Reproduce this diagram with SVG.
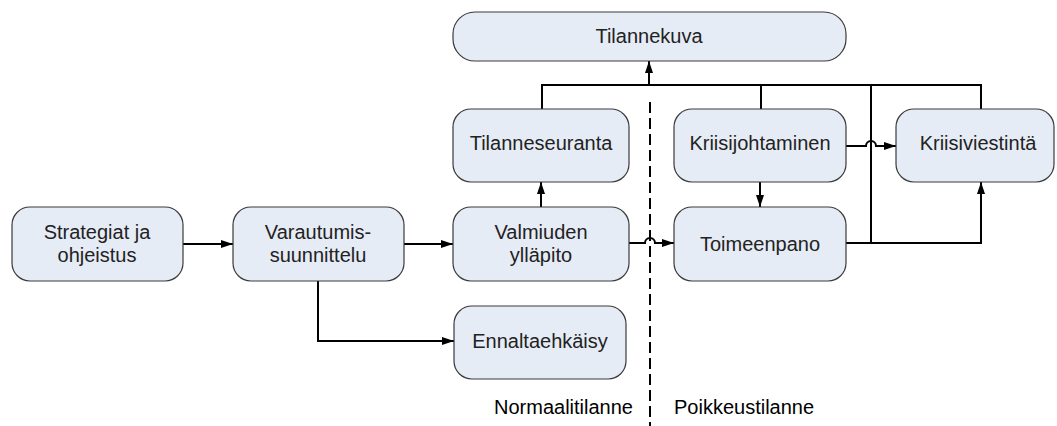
<svg xmlns="http://www.w3.org/2000/svg" width="1057" height="426" viewBox="0 0 1057 426">
<style>
.box{fill:#E6ECF6;stroke:#3a3a3a;stroke-width:1.2}
.t{font-family:"Liberation Sans",Arial,sans-serif;font-size:20px;fill:#222;text-anchor:middle}
.lbl{font-family:"Liberation Sans",Arial,sans-serif;font-size:20px;fill:#000}
.c{fill:none;stroke:#000;stroke-width:2}
</style>
<defs>
<marker id="ah" viewBox="0 0 12 8" refX="12" refY="4" markerWidth="12" markerHeight="8" markerUnits="userSpaceOnUse" orient="auto">
<path d="M0,0 L12,4 L0,8 Z" fill="#000"/>
</marker>
</defs>
<rect width="1057" height="426" fill="#fff"/>
<g id="connectors">
<path class="c" d="M183,244 H233" marker-end="url(#ah)"/>
<path class="c" d="M404,244 H453" marker-end="url(#ah)"/>
<path class="c" d="M318,281 V341 H454" marker-end="url(#ah)"/>
<path class="c" d="M541,207 V182" marker-end="url(#ah)"/>
<path class="c" d="M629,243 H645 A5,5 0 0 1 655,243 H674" marker-end="url(#ah)"/>
<path class="c" d="M760,182 V207" marker-end="url(#ah)"/>
<path class="c" d="M846,146 H866 A5,5 0 0 1 876,146 H896" marker-end="url(#ah)"/>
<path class="c" d="M846,243 H981 V182" marker-end="url(#ah)"/>
<path class="c" d="M871,243 V85"/>
<path class="c" d="M542,109 V85 H981 V109"/>
<path class="c" d="M761,85 V109"/>
<path class="c" d="M649,85 V61" marker-end="url(#ah)"/>
</g>
<g id="divider">
<line x1="650" y1="102" x2="650" y2="426" stroke="#000" stroke-width="2" stroke-dasharray="11,5"/>
</g>
<g id="n-tilannekuva">
<rect class="box" x="453" y="12" width="393" height="49" rx="22"/>
<text class="t" x="649" y="43">Tilannekuva</text>
</g>
<g id="n-tilanneseuranta">
<rect class="box" x="453" y="109" width="176" height="73" rx="18"/>
<text class="t" x="541" y="150">Tilanneseuranta</text>
</g>
<g id="n-kriisijohtaminen">
<rect class="box" x="674" y="109" width="172" height="73" rx="18"/>
<text class="t" x="760" y="150">Kriisijohtaminen</text>
</g>
<g id="n-kriisiviestinta">
<rect class="box" x="896" y="109" width="158" height="73" rx="18"/>
<text class="t" x="978" y="150">Kriisiviestintä</text>
</g>
<g id="n-strategiat">
<rect class="box" x="12" y="207" width="171" height="74" rx="18"/>
<text class="t" x="97" y="239">Strategiat ja</text>
<text class="t" x="97" y="262">ohjeistus</text>
</g>
<g id="n-varautumis">
<rect class="box" x="233" y="207" width="171" height="74" rx="18"/>
<text class="t" x="318" y="239">Varautumis-</text>
<text class="t" x="318" y="262">suunnittelu</text>
</g>
<g id="n-valmiuden">
<rect class="box" x="453" y="207" width="176" height="74" rx="18"/>
<text class="t" x="541" y="239">Valmiuden</text>
<text class="t" x="541" y="262">ylläpito</text>
</g>
<g id="n-toimeenpano">
<rect class="box" x="674" y="207" width="172" height="74" rx="18"/>
<text class="t" x="760" y="251">Toimeenpano</text>
</g>
<g id="n-ennaltaehkaisy">
<rect class="box" x="454" y="306" width="172" height="73" rx="18"/>
<text class="t" x="540" y="348">Ennaltaehkäisy</text>
</g>
<g id="labels">
<text class="lbl" x="633" y="414" text-anchor="end">Normaalitilanne</text>
<text class="lbl" x="674" y="414">Poikkeustilanne</text>
</g>
</svg>
